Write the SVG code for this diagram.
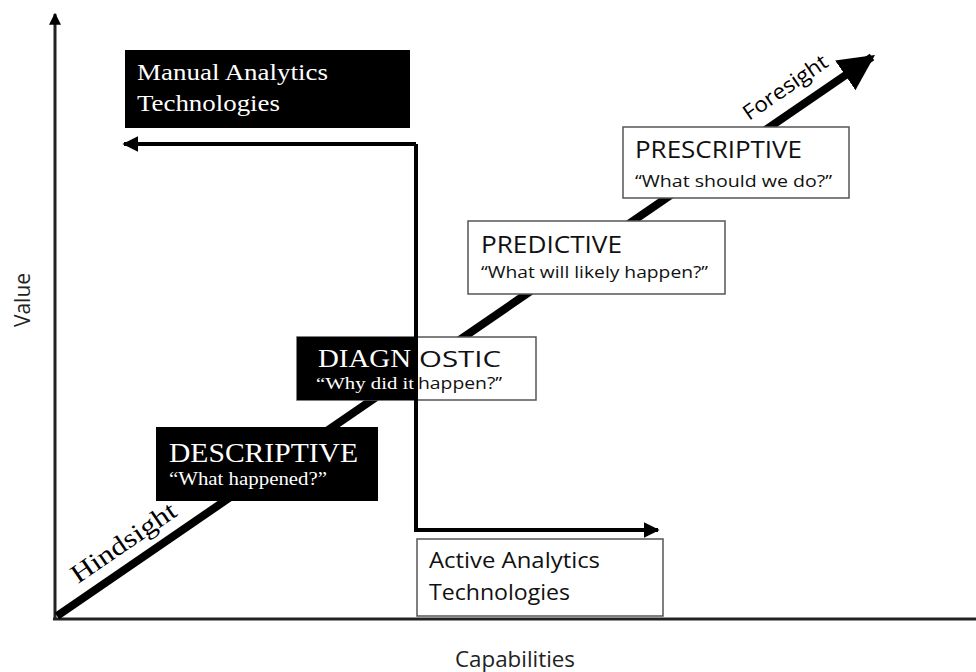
<svg xmlns="http://www.w3.org/2000/svg" width="976" height="672" viewBox="0 0 976 672">
<style>
.serif{font-family:"Liberation Serif","Times New Roman",serif;}
.sans{font-family:"Open Sans","Liberation Sans",Arial,sans-serif;}
.wht{fill:#fff;stroke:#555;stroke-width:1.5;}
.blk{fill:#000;}
.ax{stroke:#222;stroke-width:3;fill:none;}
.con{stroke:#000;stroke-width:4;fill:none;}
</style>
<defs>
<marker id="ah" viewBox="0 0 10 10" refX="9" refY="5" markerWidth="4" markerHeight="4" markerUnits="strokeWidth" orient="auto"><path d="M0,0 L10,5 L0,10 Z" fill="#000"/></marker>
<marker id="ahs" viewBox="0 0 10 10" refX="9" refY="5" markerWidth="4" markerHeight="4" markerUnits="strokeWidth" orient="auto"><path d="M0,0 L10,5 L0,10 Z" fill="#000"/></marker>
<marker id="big" viewBox="0 0 10 10" refX="9" refY="5" markerWidth="4.5" markerHeight="4.5" markerUnits="strokeWidth" orient="auto"><path d="M0,0 L10,5 L0,10 Z" fill="#000"/></marker>
</defs>
<rect width="976" height="672" fill="#fff"/>
<g id="axes">
<line class="ax" x1="55" y1="620" x2="55" y2="14" marker-end="url(#ahs)"/>
<line class="ax" x1="53" y1="619" x2="976" y2="619"/>
<text class="sans" x="30" y="300" font-size="21" text-anchor="middle" transform="rotate(-90 30 300)" fill="#222">Value</text>
<text class="sans" x="515" y="667" font-size="22" text-anchor="middle" textLength="120" lengthAdjust="spacingAndGlyphs" fill="#222">Capabilities</text>
</g>
<g id="connectors">
<line x1="57" y1="616" x2="872" y2="57" stroke="#000" stroke-width="8" marker-end="url(#big)"/>
<text class="serif" x="78" y="584" font-size="26" textLength="122" lengthAdjust="spacingAndGlyphs" transform="rotate(-34.5 78 584)">Hindsight</text>
<text class="sans" x="749" y="121" font-size="21" textLength="98" lengthAdjust="spacingAndGlyphs" transform="rotate(-34.5 749 121)">Foresight</text>
</g>
<g id="descriptive">
<rect class="blk" x="156" y="427" width="222" height="74"/>
<text class="serif" x="169" y="462" font-size="28" textLength="189" lengthAdjust="spacingAndGlyphs" fill="#fff">DESCRIPTIVE</text>
<text class="serif" x="169" y="485" font-size="18" textLength="158" lengthAdjust="spacingAndGlyphs" fill="#fff">“What happened?”</text>
</g>
<g id="diagnostic">
<rect class="wht" x="297" y="337" width="239" height="63"/>
<rect class="blk" x="297" y="337" width="119" height="63"/>
<text class="serif" x="318" y="367" font-size="26" textLength="93" lengthAdjust="spacingAndGlyphs" fill="#fff">DIAGN</text>
<text class="sans" x="419" y="367" font-size="22" textLength="82" lengthAdjust="spacingAndGlyphs" fill="#111">OSTIC</text>
<text class="serif" x="316" y="389" font-size="17" textLength="98" lengthAdjust="spacingAndGlyphs" fill="#fff">“Why did it</text>
<text class="sans" x="418" y="389" font-size="16" textLength="84" lengthAdjust="spacingAndGlyphs" fill="#111">happen?”</text>
</g>
<g id="predictive">
<rect class="wht" x="468" y="221" width="257" height="73"/>
<text class="sans" x="481" y="253" font-size="24" textLength="141" lengthAdjust="spacingAndGlyphs" fill="#111">PREDICTIVE</text>
<text class="sans" x="481" y="278" font-size="17" textLength="227" lengthAdjust="spacingAndGlyphs" fill="#111">“What will likely happen?”</text>
</g>
<g id="prescriptive">
<rect class="wht" x="623" y="127" width="226" height="71"/>
<text class="sans" x="635" y="158" font-size="24" textLength="167" lengthAdjust="spacingAndGlyphs" fill="#111">PRESCRIPTIVE</text>
<text class="sans" x="635" y="187" font-size="17" textLength="197" lengthAdjust="spacingAndGlyphs" fill="#111">“What should we do?”</text>
</g>
<g id="manual">
<rect class="blk" x="125" y="50" width="285" height="78"/>
<text class="serif" x="137" y="80" font-size="23" textLength="191" lengthAdjust="spacingAndGlyphs" fill="#fff">Manual Analytics</text>
<text class="serif" x="137" y="111" font-size="23" textLength="143" lengthAdjust="spacingAndGlyphs" fill="#fff">Technologies</text>
</g>
<g id="active">
<rect class="wht" x="417" y="539" width="246" height="77"/>
<text class="sans" x="429" y="568" font-size="22" textLength="171" lengthAdjust="spacingAndGlyphs" fill="#111">Active Analytics</text>
<text class="sans" x="429" y="600" font-size="22" textLength="141" lengthAdjust="spacingAndGlyphs" fill="#111">Technologies</text>
</g>
<g id="split-connectors">
<path class="con" d="M416,144 L416,530 L658,530" marker-end="url(#ah)"/>
<path class="con" d="M416,144 L124,144" marker-end="url(#ah)"/>
</g>
</svg>
